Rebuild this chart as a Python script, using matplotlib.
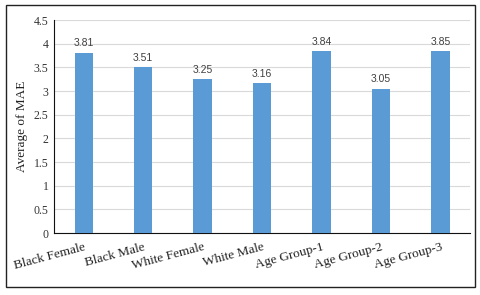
import matplotlib
matplotlib.use('Agg')
import matplotlib.pyplot as plt
from matplotlib.patches import Rectangle

categories = ['Black Female', 'Black Male', 'White Female', 'White Male',
              'Age Group-1', 'Age Group-2', 'Age Group-3']
mae = [3.81, 3.51, 3.25, 3.16, 3.84, 3.05, 3.85]
yticks = [0, 0.5, 1, 1.5, 2, 2.5, 3, 3.5, 4, 4.5]

fig = plt.figure(figsize=(4.8, 2.95), dpi=100)
ax = fig.add_axes([0.1125, 0.21, 0.867, 0.722])

# outer frame round the whole chart
fig.patches.append(Rectangle((0.012, 0.027), 0.977, 0.955, transform=fig.transFigure,
                             fill=False, edgecolor='#222222', linewidth=1.0))

x = range(len(categories))
bars = ax.bar(x, mae, width=0.31, color='#5B9BD5', zorder=3)
for b, v in zip(bars, mae):
    ax.text(b.get_x() + b.get_width() / 2, v + 0.09, '%.2f' % v, ha='center', va='bottom',
            fontsize=7.5, color='#404040', family='Liberation Sans')

ax.set_ylim(0, 4.5)
ax.set_xlim(-0.5, len(categories) - 0.5)
ax.set_yticks(yticks)
ax.set_yticklabels(['%g' % t for t in yticks], family='Liberation Serif', fontsize=8.5, color='#333333')
ax.set_xticks(list(x))
ax.set_xticklabels(categories, rotation=15, ha='right', rotation_mode='anchor',
                   family='Liberation Serif', fontsize=9.5, color='#222222')
ax.tick_params(axis='both', length=0, pad=4)
ax.tick_params(axis='x', pad=6)
ax.set_ylabel('Average of MAE', family='Liberation Serif', fontsize=9.5, color='#222222')
ax.yaxis.grid(True, color='#D9D9D9', linewidth=0.8, zorder=0)
for s in ['top', 'right']:
    ax.spines[s].set_visible(False)
ax.spines['left'].set_color('#111111')
ax.spines['bottom'].set_color('#111111')

fig.savefig('out.png', dpi=100)
